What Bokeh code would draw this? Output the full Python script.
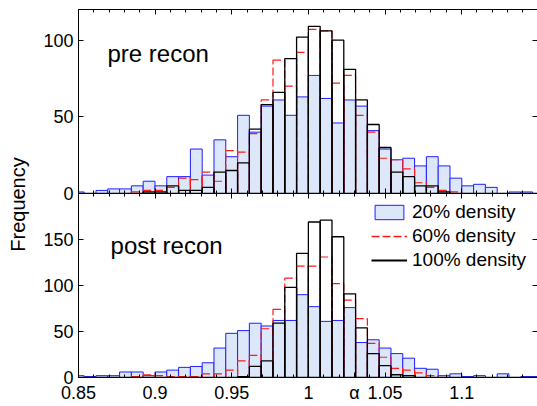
import numpy as np
from bokeh.embed import file_html
from bokeh.layouts import column, row
from bokeh.models import (FixedTicker, Label, Legend, LegendItem, LinearAxis,
                          NumeralTickFormatter, Range1d)
from bokeh.plotting import figure
from bokeh.resources import INLINE

FONT = "Liberation Sans"

# Histogram bins: 40 bins of width 0.0077 with one edge at alpha = 1
bin_width = 0.0077
bin_offsets = np.arange(-20, 20)
bin_left = 1.0 + bin_offsets * bin_width
bin_right = bin_left + bin_width

# Counts per bin, pre-reconstruction
pre_20 = [1, 0, 2, 3, 3, 5, 8, 5, 11, 11, 29, 12, 35, 24, 51, 40, 57, 61, 51, 63,
          77, 62, 46, 61, 57, 41, 29, 22, 23, 18, 24, 18, 10, 5, 6, 4, 0, 1, 1, 0]
pre_60 = [0, 0, 0, 0, 0, 1, 2, 2, 4, 10, 9, 14, 8, 28, 27, 39, 61, 87, 70, 92,
          107, 106, 72, 77, 51, 40, 23, 22, 16, 7, 4, 2, 1, 0, 0, 0, 0, 0, 0, 0]
pre_100 = [0, 0, 0, 0, 0, 0, 1, 1, 5, 2, 2, 4, 14, 15, 20, 42, 58, 66, 88, 102,
           109, 106, 100, 81, 61, 45, 30, 14, 11, 5, 5, 1, 0, 0, 0, 0, 0, 0, 0, 0]

# Counts per bin, post-reconstruction
post_20 = [2, 1, 2, 2, 6, 6, 2, 6, 8, 11, 12, 16, 32, 48, 51, 59, 56, 62, 62, 90,
           77, 61, 62, 76, 38, 41, 32, 26, 21, 10, 9, 2, 4, 1, 2, 0, 4, 0, 1, 1]
post_60 = [0, 0, 0, 0, 0, 1, 3, 2, 1, 1, 1, 4, 4, 8, 18, 24, 53, 74, 108, 121,
           121, 131, 102, 84, 64, 37, 22, 10, 8, 5, 2, 0, 0, 0, 0, 0, 0, 0, 0, 0]
post_100 = [0, 0, 0, 0, 0, 0, 0, 0, 0, 0, 0, 0, 0, 0, 1, 12, 18, 59, 98, 135,
            169, 171, 153, 91, 54, 26, 13, 3, 2, 0, 0, 0, 0, 0, 0, 0, 0, 0, 0, 0]

series_labels = ["20% density", "60% density", "100% density"]
panel_titles = ["pre recon", "post recon"]

x_ticks = [0.85, 0.9, 0.95, 1.0, 1.05, 1.1]
x_minor = [round(0.85 + 0.01 * i, 2) for i in range(30)]
pre_y_ticks = [0, 50, 100]
post_y_ticks = [0, 50, 100, 150]

# the alpha symbol sits on the bottom axis, at the 1.03 mark
x_symbol = "\u03b1"
x_symbol_at = 1.03

BLUE_FILL = "#dce8fa"
BLUE_EDGE = "#1f1fff"
RED = "#ff1a1a"
DASH = "8 3"


def add_axis(p, side, ticker, labels, line=True):
    ax = LinearAxis(ticker=ticker, major_tick_in=5, major_tick_out=0,
                    minor_tick_in=3, minor_tick_out=0,
                    axis_line_color="black" if line else None,
                    major_tick_line_color="black", minor_tick_line_color="black",
                    major_label_text_font=FONT, major_label_text_color="black")
    if labels:
        ax.major_label_text_font_size = "18px"
        ax.major_label_standoff = 5
    else:
        ax.major_label_text_font_size = "0px"
        ax.major_label_text_color = None
        ax.major_label_standoff = 0
    p.add_layout(ax, side)
    return ax


def make_panel(height, y_max, y_ticks, border_top, border_bottom, x_labels):
    p = figure(width=507, height=height,
               x_range=Range1d(0.85, 1.1495), y_range=Range1d(0, y_max),
               output_backend="svg", toolbar_location=None,
               x_axis_location=None, y_axis_location=None,
               min_border_left=48, min_border_right=0,
               min_border_top=border_top, min_border_bottom=border_bottom)
    p.grid.visible = False
    p.outline_line_color = None
    p.border_fill_color = None
    p.background_fill_color = "white"

    add_axis(p, "left", FixedTicker(ticks=y_ticks), True)
    add_axis(p, "right", FixedTicker(ticks=y_ticks), False, line=False)
    if x_labels:
        minor = [t for t in x_minor if t != x_symbol_at]
        xb = add_axis(p, "below",
                      FixedTicker(ticks=sorted(x_ticks + [x_symbol_at]), minor_ticks=minor), True)
        xb.formatter = NumeralTickFormatter(format="0.[00]")
        xb.major_label_overrides = {x_symbol_at: x_symbol}
    else:
        add_axis(p, "below", FixedTicker(ticks=x_ticks, minor_ticks=x_minor), False)
    add_axis(p, "above", FixedTicker(ticks=x_ticks, minor_ticks=x_minor), False)
    return p


def draw_hists(p, c20, c60, c100):
    r20 = p.quad(left=bin_left, right=bin_right, bottom=0, top=c20,
                 fill_color=BLUE_FILL, line_color=BLUE_EDGE, line_width=1)
    r60 = p.quad(left=bin_left, right=bin_right, bottom=0, top=c60,
                 fill_color=None, line_color=RED, line_width=1.2, line_dash=DASH)
    r100 = p.quad(left=bin_left, right=bin_right, bottom=0, top=c100,
                  fill_color=None, line_color="black", line_width=1.3)
    return r20, r60, r100


top = make_panel(205, 120, pre_y_ticks, 9, 12, False)
draw_hists(top, pre_20, pre_60, pre_100)
top.add_layout(Label(x=0.8689, y=91.5, text=panel_titles[0], text_font=FONT,
                     text_font_size="24px", text_color="black",
                     text_align="left", text_baseline="alphabetic"))

bottom = make_panel(217, 200, post_y_ticks, 4, 29, True)
bottom.margin = (-16, 0, 0, 0)
b20, b60, b100 = draw_hists(bottom, post_20, post_60, post_100)
bottom.add_layout(Label(x=0.8709, y=143.5, text=panel_titles[1], text_font=FONT,
                        text_font_size="24px", text_color="black",
                        text_align="left", text_baseline="alphabetic"))

# legend swatches: filled patch for the 20% series, plain lines for the others
nan = np.array([np.nan])
red_key = bottom.line(x=nan, y=nan, line_color=RED, line_width=1.5, line_dash=DASH)
black_key = bottom.line(x=nan, y=nan, line_color="black", line_width=2)
legend = Legend(items=[LegendItem(label=series_labels[0], renderers=[b20]),
                       LegendItem(label=series_labels[1], renderers=[red_key]),
                       LegendItem(label=series_labels[2], renderers=[black_key])],
                location=(293, 106), orientation="vertical",
                padding=0, margin=0, spacing=2,
                glyph_width=36, glyph_height=18, label_height=18,
                label_standoff=5, label_text_font=FONT, label_text_font_size="19px",
                label_text_color="black",
                border_line_color=None, background_fill_alpha=0)
bottom.add_layout(legend, "center")

# narrow strip carrying the shared y-axis title
strip = figure(width=30, height=406, x_range=Range1d(0, 30), y_range=Range1d(0, 406),
               output_backend="svg", toolbar_location=None,
               x_axis_location=None, y_axis_location=None,
               min_border_left=0, min_border_right=0, min_border_top=0, min_border_bottom=0)
strip.grid.visible = False
strip.outline_line_color = None
strip.border_fill_color = None
strip.add_layout(Label(x=17, y=202, text="Frequency", angle=np.pi / 2,
                       text_font=FONT, text_font_size="20px", text_color="black",
                       text_align="center", text_baseline="middle"))

layout = row(strip, column(top, bottom))
open("out.html", "w").write(file_html(layout, INLINE))
